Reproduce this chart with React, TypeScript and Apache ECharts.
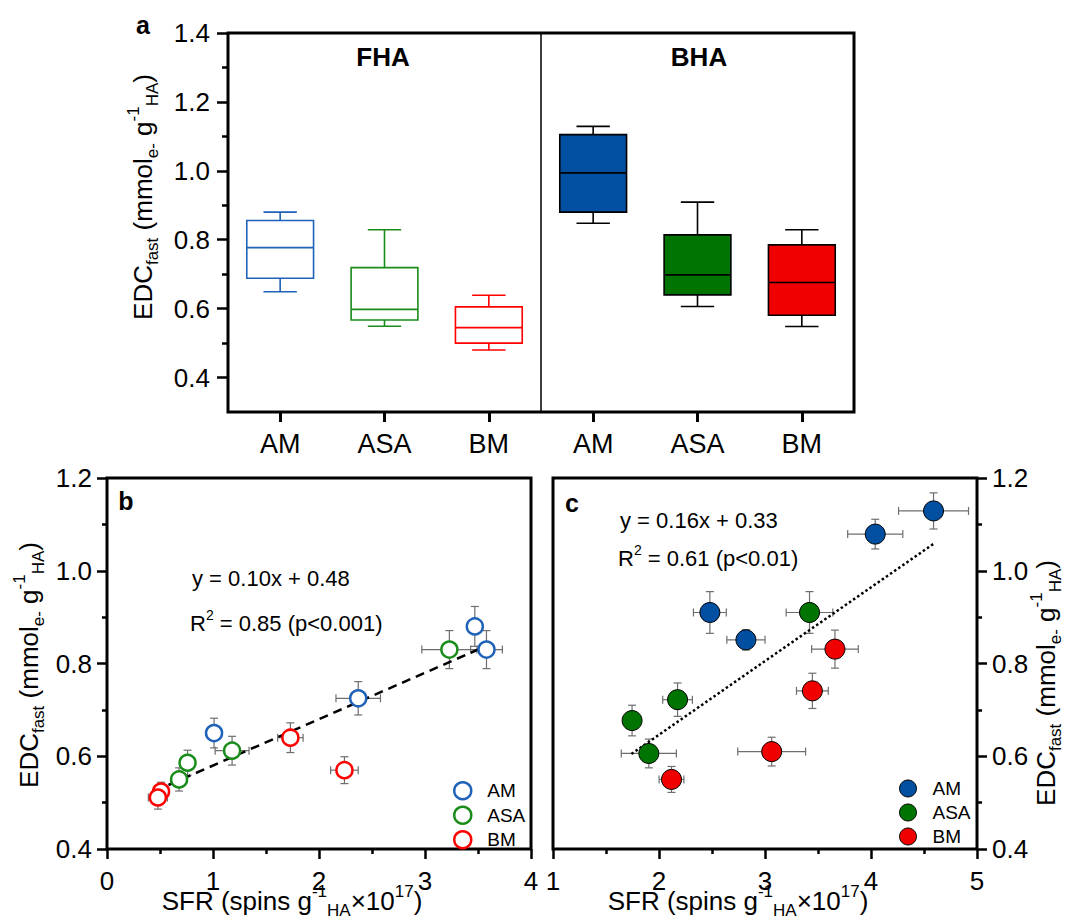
import React, { useEffect, useRef } from 'react';
import * as echarts from 'echarts';

const FONT = '"Liberation Sans", Arial, Helvetica, sans-serif';

// ---------- Panel a: box plots ----------
const boxCategories = ['FHA-AM', 'FHA-ASA', 'FHA-BM', 'BHA-AM', 'BHA-ASA', 'BHA-BM'];
const boxLabels = ['AM', 'ASA', 'BM', 'AM', 'ASA', 'BM'];
// [min, q1, median, q3, max]
const boxFHA_AM = [0.649, 0.688, 0.777, 0.856, 0.88];
const boxFHA_ASA = [0.549, 0.567, 0.598, 0.719, 0.829];
const boxFHA_BM = [0.48, 0.5, 0.545, 0.605, 0.639];
const boxBHA_AM = [0.848, 0.88, 0.994, 1.105, 1.129];
const boxBHA_ASA = [0.606, 0.64, 0.698, 0.814, 0.909];
const boxBHA_BM = [0.548, 0.581, 0.676, 0.785, 0.829];
const boxStats = [boxFHA_AM, boxFHA_ASA, boxFHA_BM, boxBHA_AM, boxBHA_ASA, boxBHA_BM];
const boxFilled = [false, false, false, true, true, true];
const groupTitles = ['FHA', 'BHA'];
const dividerAfter = 2;
const yTicksA = [0.4, 0.6, 0.8, 1.0, 1.2, 1.4];
const yMinorA = [0.5, 0.7, 0.9, 1.1, 1.3];

const groupNames = ['AM', 'ASA', 'BM'];
const lineColors = ['#1f62b8', '#1a8c1a', '#ff0000'];
const fillColors = ['#004fa0', '#007400', '#f00000'];

// ---------- Panel b: [SFR, EDC, xErr, yErr] ----------
const bAM = [[3.47, 0.88, 0.03, 0.043], [3.58, 0.83, 0.15, 0.041], [2.37, 0.725, 0.21, 0.036], [1.01, 0.65, 0.03, 0.032]];
const bASA = [[3.23, 0.83, 0.26, 0.041], [1.18, 0.612, 0.16, 0.031], [0.76, 0.586, 0.04, 0.027], [0.68, 0.55, 0.05, 0.025]];
const bBM = [[1.73, 0.64, 0.12, 0.032], [2.24, 0.57, 0.13, 0.029], [0.51, 0.524, 0.05, 0.02], [0.48, 0.511, 0.09, 0.025]];
const bTrend = [[0.45, 0.525], [3.58, 0.838]];
const bEquation = 'y = 0.10x + 0.48';
const bR2 = '0.85 (p<0.001)';

// ---------- Panel c ----------
const cAM = [[4.59, 1.129, 0.33, 0.039], [4.04, 1.079, 0.26, 0.032], [2.48, 0.91, 0.155, 0.045], [2.82, 0.851, 0.18, 0.022]];
const cASA = [[3.42, 0.91, 0.22, 0.045], [2.175, 0.722, 0.14, 0.036], [1.746, 0.677, 0, 0.033], [1.904, 0.606, 0.26, 0.031]];
const cBM = [[3.66, 0.831, 0.22, 0.041], [3.447, 0.741, 0.15, 0.038], [3.063, 0.61, 0.32, 0.031], [2.118, 0.55, 0.117, 0.028]];
const cTrend = [[1.74, 0.605], [4.59, 1.058]];
const cEquation = 'y = 0.16x + 0.33';
const cR2 = '0.61 (p<0.01)';

const bGroups = [bAM, bASA, bBM];
const cGroups = [cAM, cASA, cBM];

const TICK = { lineStyle: { color: '#000', width: 2.5 } };

function boxRender(params: any, api: any) {
  const idx = api.value(0);
  const mn = api.value(1), q1 = api.value(2), md = api.value(3), q3 = api.value(4), mx = api.value(5);
  const band = api.size([1, 0])[0];
  const bw = band * 0.64;
  const cw = bw * 0.5;
  const cx = api.coord([idx, md])[0];
  const Y = (v: number) => api.coord([idx, v])[1];
  const filled = boxFilled[idx];
  const col = filled ? fillColors[idx % 3] : lineColors[idx % 3];
  const stroke = filled ? '#000' : col;
  const ls = { stroke, lineWidth: 1.6, fill: 'none' };
  const ln = (x1: number, y1: number, x2: number, y2: number) => ({ type: 'line', shape: { x1, y1, x2, y2 }, style: ls });
  return {
    type: 'group',
    children: [
      ln(cx, Y(mx), cx, Y(q3)),
      ln(cx, Y(q1), cx, Y(mn)),
      ln(cx - cw / 2, Y(mx), cx + cw / 2, Y(mx)),
      ln(cx - cw / 2, Y(mn), cx + cw / 2, Y(mn)),
      { type: 'rect', shape: { x: cx - bw / 2, y: Y(q3), width: bw, height: Y(q1) - Y(q3) }, style: { fill: filled ? col : 'none', stroke, lineWidth: 1.6 } },
      ln(cx - bw / 2, Y(md), cx + bw / 2, Y(md)),
    ],
  };
}

function dividerRender(params: any, api: any) {
  const i = api.value(0);
  const x = (api.coord([i, api.value(1)])[0] + api.coord([i + 1, api.value(1)])[0]) / 2;
  const y1 = api.coord([i, api.value(1)])[1];
  const y2 = api.coord([i, api.value(2)])[1];
  return { type: 'line', shape: { x1: x, y1, x2: x, y2 }, style: { stroke: '#000', lineWidth: 1.5 } };
}

function errRender(params: any, api: any) {
  const x = api.value(0), y = api.value(1), xe = api.value(2), ye = api.value(3);
  const cap = 4;
  const style = { stroke: '#6e6e6e', lineWidth: 1.2 };
  const children: any[] = [];
  const ln = (x1: number, y1: number, x2: number, y2: number) => ({ type: 'line', shape: { x1, y1, x2, y2 }, style });
  if (xe > 0) {
    const l = api.coord([x - xe, y]);
    const r = api.coord([x + xe, y]);
    children.push(ln(l[0], l[1], r[0], r[1]), ln(l[0], l[1] - cap, l[0], l[1] + cap), ln(r[0], r[1] - cap, r[0], r[1] + cap));
  }
  if (ye > 0) {
    const t = api.coord([x, y + ye]);
    const b = api.coord([x, y - ye]);
    children.push(ln(t[0], t[1], b[0], b[1]), ln(t[0] - cap, t[1], t[0] + cap, t[1]), ln(b[0] - cap, b[1], b[0] + cap, b[1]));
  }
  return { type: 'group', children };
}

const richTitle = (size: number) => ({
  b: { fontSize: size, lineHeight: 36, fontFamily: FONT, fill: '#000' },
  s: { fontSize: Math.round(size * 0.66), lineHeight: 20, verticalAlign: 'bottom', fontFamily: FONT, fill: '#000' },
  p: { fontSize: Math.round(size * 0.66), lineHeight: 24, verticalAlign: 'top', fontFamily: FONT, fill: '#000' },
});

const yTitleText = '{b|EDC}{s|fast}{b| (mmol}{s|e-}{b| g}{p|-1}{s|HA}{b|)}';
const xTitleText = '{b|SFR (spins g}{p|-1}{s|HA}{b|×10}{p|17}{b|)}';

function textEl(x: number, y: number, text: string, size: number, opts: any = {}) {
  return {
    type: 'text', x, y, rotation: opts.rotation || 0, z: 10,
    style: {
      text, fill: '#000', fontFamily: FONT, fontSize: size, fontWeight: opts.bold ? 'bold' : 'normal',
      align: opts.align || 'center', verticalAlign: 'middle', rich: opts.rich,
    },
  };
}

function buildOption() {
  const valueAxisCommon = {
    type: 'value',
    axisLine: { show: false },
    splitLine: { show: false },
    minorSplitLine: { show: false },
    axisTick: { show: true, length: 10, ...TICK },
    minorTick: { show: true, splitNumber: 2, length: 5, ...TICK },
    axisLabel: { fontSize: 26, color: '#000', fontFamily: FONT, margin: 15 },
  };

  const series: any[] = [
    {
      type: 'custom', xAxisIndex: 0, yAxisIndex: 0, renderItem: boxRender, silent: true,
      data: boxStats.map((s, i) => [i, ...s]), z: 3,
    },
    {
      type: 'custom', xAxisIndex: 0, yAxisIndex: 0, renderItem: dividerRender, silent: true,
      data: [[dividerAfter, 0.3, 1.4]], z: 2,
    },
    {
      type: 'custom', xAxisIndex: 1, yAxisIndex: 2, renderItem: errRender, silent: true,
      data: [...bAM, ...bASA, ...bBM], z: 2,
    },
    {
      type: 'custom', xAxisIndex: 2, yAxisIndex: 3, renderItem: errRender, silent: true,
      data: [...cAM, ...cASA, ...cBM], z: 2,
    },
    {
      type: 'line', xAxisIndex: 1, yAxisIndex: 2, data: bTrend, symbol: 'none', silent: true, z: 3,
      lineStyle: { color: '#000', width: 2.5, type: [9, 6] },
    },
    {
      type: 'line', xAxisIndex: 2, yAxisIndex: 3, data: cTrend, symbol: 'none', silent: true, z: 3,
      lineStyle: { color: '#000', width: 2.5, type: [2.5, 2.5] },
    },
  ];
  bGroups.forEach((g, i) => {
    series.push({
      type: 'scatter', name: 'b-' + groupNames[i], xAxisIndex: 1, yAxisIndex: 2, data: g, z: 4,
      symbol: 'circle', symbolSize: 16, encode: { x: 0, y: 1 },
      itemStyle: { color: '#fff', borderColor: lineColors[i], borderWidth: 2.5, opacity: 1 },
    });
  });
  cGroups.forEach((g, i) => {
    series.push({
      type: 'scatter', name: 'c-' + groupNames[i], xAxisIndex: 2, yAxisIndex: 3, data: g, z: 4,
      symbol: 'circle', symbolSize: 20, encode: { x: 0, y: 1 },
      itemStyle: { color: fillColors[i], borderColor: '#000', borderWidth: 1, opacity: 1 },
    });
  });

  const legendCommon = {
    orient: 'vertical', icon: 'circle', itemWidth: 17, itemHeight: 17, itemGap: 5,
    selectedMode: false,
    formatter: (n: string) => n.split('-')[1],
    textStyle: { fontSize: 19, color: '#000', fontFamily: FONT, padding: [0, 0, 0, 11] },
  };

  const rt = richTitle(26);
  const req = {
    t: { fontSize: 22, lineHeight: 30, fontFamily: FONT, fill: '#000' },
    p: { fontSize: 14, lineHeight: 22, verticalAlign: 'top', fontFamily: FONT, fill: '#000' },
  };

  return {
    animation: false,
    backgroundColor: '#fff',
    textStyle: { fontFamily: FONT },
    grid: [
      { left: 228, top: 33, width: 626, height: 379, show: true, borderColor: '#000', borderWidth: 3, backgroundColor: 'transparent' },
      { left: 107, top: 478, width: 424, height: 371, show: true, borderColor: '#000', borderWidth: 3, backgroundColor: 'transparent' },
      { left: 553, top: 478, width: 424, height: 371, show: true, borderColor: '#000', borderWidth: 3, backgroundColor: 'transparent' },
    ],
    xAxis: [
      {
        gridIndex: 0, type: 'category', data: boxCategories, boundaryGap: true,
        axisLine: { show: false }, splitLine: { show: false },
        axisTick: { show: true, alignWithLabel: true, length: 10, lineStyle: { color: '#000', width: 3 } },
        axisLabel: { formatter: (v: string, i: number) => boxLabels[i], fontSize: 27, color: '#000', fontFamily: FONT, margin: 18 },
      },
      { ...valueAxisCommon, gridIndex: 1, min: 0, max: 4, interval: 1, axisLabel: { ...valueAxisCommon.axisLabel, margin: 19 } },
      { ...valueAxisCommon, gridIndex: 2, min: 1, max: 5, interval: 1, axisLabel: { ...valueAxisCommon.axisLabel, margin: 19 } },
    ],
    yAxis: [
      {
        gridIndex: 0, type: 'value', position: 'left', min: 0.3, max: 1.4,
        axisLine: { show: false }, splitLine: { show: false },
        axisTick: { show: true, customValues: yTicksA, length: 11, ...TICK },
        axisLabel: { customValues: yTicksA, formatter: (v: number) => v.toFixed(1), fontSize: 26, color: '#000', fontFamily: FONT, margin: 18 },
      },
      {
        gridIndex: 0, type: 'value', position: 'left', min: 0.3, max: 1.4,
        axisLine: { show: false }, splitLine: { show: false },
        axisTick: { show: true, customValues: yMinorA, length: 6, ...TICK },
        axisLabel: { show: false },
      },
      {
        ...valueAxisCommon, gridIndex: 1, position: 'left', min: 0.4, max: 1.2, interval: 0.2,
        axisLabel: { ...valueAxisCommon.axisLabel, formatter: (v: number) => v.toFixed(1) },
      },
      {
        ...valueAxisCommon, gridIndex: 2, position: 'right', min: 0.4, max: 1.2, interval: 0.2,
        axisLabel: { ...valueAxisCommon.axisLabel, formatter: (v: number) => v.toFixed(1) },
      },
    ],
    legend: [
      {
        ...legendCommon, left: 448, top: 776,
        data: groupNames.map((n, i) => ({ name: 'b-' + n, itemStyle: { color: '#fff', borderColor: lineColors[i], borderWidth: 2.5 } })),
      },
      {
        ...legendCommon, left: 894, top: 774,
        data: groupNames.map((n, i) => ({ name: 'c-' + n, itemStyle: { color: fillColors[i], borderColor: '#000', borderWidth: 1 } })),
      },
    ],
    graphic: [
      textEl(143, 25, 'a', 25, { bold: true }),
      textEl(126, 501, 'b', 25, { bold: true }),
      textEl(572, 503, 'c', 25, { bold: true }),
      textEl(383, 57, groupTitles[0], 26, { bold: true }),
      textEl(699, 57, groupTitles[1], 26, { bold: true }),
      textEl(143, 197, yTitleText, 26, { rotation: Math.PI / 2, rich: rt }),
      textEl(29, 665, yTitleText, 26, { rotation: Math.PI / 2, rich: rt }),
      textEl(1046, 683, yTitleText, 26, { rotation: Math.PI / 2, rich: rt }),
      textEl(292, 901, xTitleText, 26, { rich: rt }),
      textEl(738, 901, xTitleText, 26, { rich: rt }),
      textEl(192, 578, '{t|' + bEquation + '}', 22, { align: 'left', rich: req }),
      textEl(190, 623, '{t|R}{p|2}{t| = ' + bR2 + '}', 22, { align: 'left', rich: req }),
      textEl(620, 520, '{t|' + cEquation + '}', 22, { align: 'left', rich: req }),
      textEl(618, 558, '{t|R}{p|2}{t| = ' + cR2 + '}', 22, { align: 'left', rich: req }),
    ],
    series,
  };
}

export default function App() {
  const ref = useRef<HTMLDivElement>(null);
  useEffect(() => {
    if (!ref.current) return;
    const chart = echarts.init(ref.current, null, { renderer: 'svg' });
    chart.setOption(buildOption() as any);
    return () => chart.dispose();
  }, []);
  return (
    <div
      ref={ref}
      style={{ position: 'fixed', left: 0, top: 0, width: 1069, height: 922, background: '#fff' }}
    />
  );
}
